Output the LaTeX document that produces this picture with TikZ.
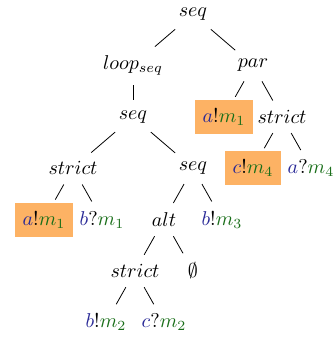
\documentclass[tikz,border=0pt]{standalone}
\usepackage{amssymb}
\definecolor{actblue}{RGB}{40,40,150}
\definecolor{msggreen}{RGB}{25,110,25}
\definecolor{hlorange}{RGB}{253,178,100}
\newcommand{\evt}[3]{\textcolor{actblue}{#1}#2\textcolor{msggreen}{#3}}
\tikzset{
    hl/.style={fill=hlorange, inner xsep=4pt, minimum height=17pt},
    edge from parent/.style={draw, shorten <=1.5pt, shorten >=1.5pt}
}
\begin{document}
\begin{tikzpicture}[level distance=25.7pt,
                    level/.style={sibling distance=29pt},
                    level 1/.style={sibling distance=60pt}]
    \useasboundingbox (-96.5pt,7pt) rectangle (71pt,-162.5pt);
    \node (root) {$seq$}
        child {
            node (loop) {$loop_{seq}$}
                child {
                    node (seqa) {$seq$}
                        child [sibling distance=60pt] {
                            node (stricta) {$strict$}
                                child {
                                    node [hl] (senda) {$\evt{a}{!}{m_1}$}
                                }
                                child {
                                    node (recvb) {$\evt{b}{?}{m_1}$}
                                }
                        }
                        child [sibling distance=60pt] {
                            node (seqb) {$seq$}
                                child {
                                    node (alt) {$alt$}
                                        child {
                                            node (strictb) {$strict$}
                                                child {
                                                    node (sendb) {$\evt{b}{!}{m_2}$}
                                                }
                                                child {
                                                    node (recvc) {$\evt{c}{?}{m_2}$}
                                                }
                                        }
                                        child {
                                            node (empty) {$\emptyset$}
                                        }
                                }
                                child {
                                    node (sendb3) {$\evt{b}{!}{m_3}$}
                                }
                        }
                }
        }
        child {
            node (par) {$par$}
                child {
                    node [hl] (sendpar) {$\evt{a}{!}{m_1}$}
                }
                child {
                    node (strictc) {$strict$}
                        child {
                            node [hl] (sendc) {$\evt{c}{!}{m_4}$}
                        }
                        child {
                            node (recva) {$\evt{a}{?}{m_4}$}
                        }
                }
        };
\end{tikzpicture}
\end{document}
